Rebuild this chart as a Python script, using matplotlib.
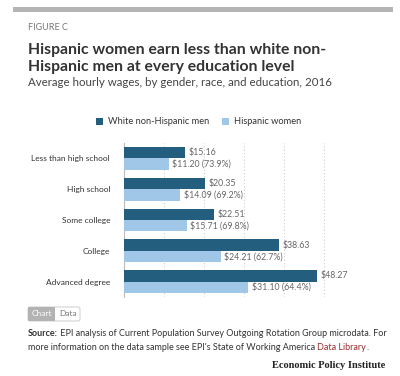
import matplotlib
matplotlib.use('Agg')
import matplotlib.pyplot as plt
import numpy as np
from matplotlib.patches import Rectangle, FancyBboxPatch

# data
categories = ['Less than high school', 'High school', 'Some college', 'College', 'Advanced degree']
men = [15.16, 20.35, 22.51, 38.63, 48.27]
women = [11.20, 14.09, 15.71, 24.21, 31.10]
women_pct = [73.9, 69.2, 69.8, 62.7, 64.4]
series_names = ['White non-Hispanic men', 'Hispanic women']

dark = '#245e7f'
light = '#a0c6e8'

plt.rcParams['font.family'] = ['Lato', 'DejaVu Sans']

fig = plt.figure(figsize=(4.0, 3.76), dpi=100)
W, H = 400, 376

def fx(px):
    return px / W

def fy(py):
    return 1 - py / H

def right_edge(t):
    # figure-fraction x of a text's right edge
    fig.canvas.draw()
    return t.get_window_extent().x1 / W

# top gray band
fig.patches.append(Rectangle((fx(13), fy(12)), fx(380), 5 / H, transform=fig.transFigure,
                             color='#b5b5b5', lw=0))

fig.text(fx(28), fy(27), 'FIGURE C', fontsize=6.5, color='#777777', va='center')
fig.text(fx(28), fy(50), 'Hispanic women earn less than white non-', fontsize=11.3,
         fontweight='bold', color='#333333', va='center')
fig.text(fx(28), fy(67), 'Hispanic men at every education level', fontsize=11.3,
         fontweight='bold', color='#333333', va='center')
fig.text(fx(28), fy(83), 'Average hourly wages, by gender, race, and education, 2016',
         fontsize=8.3, color='#444444', va='center')

# legend
for x0, name, c in [(96, series_names[0], dark), (222, series_names[1], light)]:
    fig.patches.append(Rectangle((fx(x0), fy(125)), fx(7), 7 / H, transform=fig.transFigure,
                                 color=c, lw=0))
    fig.text(fx(x0 + 12), fy(121.5), name, fontsize=6.7, color='#333333', va='center')

ax = fig.add_axes([fx(124), fy(297), fx(240), (297 - 143) / H])
y = np.arange(len(categories))
h = 0.37
ax.barh(y - h / 2, men, height=h, color=dark, zorder=3)
ax.barh(y + h / 2, women, height=h, color=light, zorder=3)

for i in range(len(categories)):
    ax.text(men[i] + 0.9, y[i] - h / 2, f'${men[i]:.2f}', va='center', ha='left',
            fontsize=6.3, color='#666666')
    ax.text(women[i] + 0.9, y[i] + h / 2, f'${women[i]:.2f} ({women_pct[i]:.1f}%)',
            va='center', ha='left', fontsize=6.3, color='#666666')

ax.set_xlim(0, 60)
ax.set_ylim(len(categories) - 0.5, -0.5)
ax.set_xticks(np.arange(0, 61, 10))
ax.xaxis.grid(True, color='#cccccc', linestyle=(0, (1, 2)), lw=0.8, zorder=0)
ax.tick_params(axis='x', length=0, labelbottom=False)
ax.tick_params(axis='y', length=0, pad=10, labelsize=6, labelcolor='#333333')
ax.set_yticks(y)
ax.set_yticklabels(categories)
for s in ['top', 'right', 'bottom']:
    ax.spines[s].set_visible(False)
ax.spines['left'].set_color('#bbbbbb')
ax.spines['left'].set_linewidth(0.8)

# chart / data toggle
fig.patches.append(FancyBboxPatch((fx(28), fy(321)), fx(52), 14 / H,
                                  boxstyle='round,pad=0,rounding_size=0.006',
                                  transform=fig.transFigure, fc='white', ec='#cccccc', lw=0.7))
fig.patches.append(Rectangle((fx(28), fy(321)), fx(27), 14 / H, transform=fig.transFigure,
                             color='#b3b3b3', lw=0))
fig.text(fx(41.5), fy(314), 'Chart', fontsize=6, color='white', ha='center', va='center')
fig.text(fx(67.5), fy(314), 'Data', fontsize=6, color='#777777', ha='center', va='center')

# source note
src = fig.text(fx(28), fy(333), 'Source:', fontsize=6.5, fontweight='bold', color='#333333',
               va='center')
fig.text(right_edge(src), fy(333),
         ' EPI analysis of Current Population Survey Outgoing Rotation Group microdata. For',
         fontsize=6.5, color='#333333', va='center')
t2 = fig.text(fx(28), fy(347), "more information on the data sample see EPI's State of Working America ",
              fontsize=6.5, color='#333333', va='center')
t3 = fig.text(right_edge(t2), fy(347), 'Data Library', fontsize=6.5, color='#9b2c2c', va='center')
fig.text(right_edge(t3), fy(347), '.', fontsize=6.5, color='#333333', va='center')

fig.text(fx(385), fy(365), 'Economic Policy Institute', fontsize=7.5, fontweight='bold',
         family='Liberation Serif', color='#222222', ha='right', va='center')

fig.savefig('out.png', dpi=100)
